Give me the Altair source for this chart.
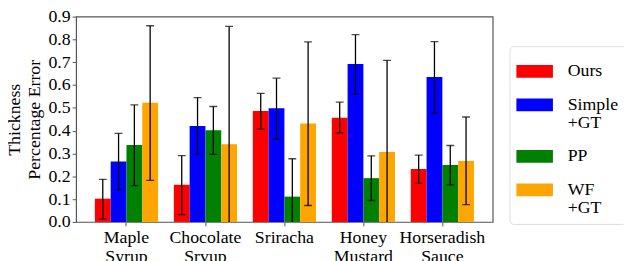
import altair as alt
import pandas as pd

categories = ["Maple Syrup", "Chocolate Srvup", "Sriracha", "Honey Mustard", "Horseradish Sauce"]
methods = ["Ours", "Simple\n+GT", "PP", "WF\n+GT"]
colors = ["#ff0000", "#0000ff", "#008000", "#ffa500"]

means = {
    "Ours":        [0.102, 0.163, 0.486, 0.457, 0.232],
    "Simple\n+GT": [0.265, 0.421, 0.498, 0.692, 0.635],
    "PP":          [0.337, 0.402, 0.111, 0.192, 0.250],
    "WF\n+GT":     [0.522, 0.340, 0.431, 0.307, 0.267],
}
err_lo = {
    "Ours":        [0.013, 0.032, 0.407, 0.391, 0.169],
    "Simple\n+GT": [0.141, 0.296, 0.362, 0.560, 0.477],
    "PP":          [0.159, 0.296, -0.055, 0.094, 0.163],
    "WF\n+GT":     [0.182, -0.177, 0.072, -0.094, 0.076],
}
err_hi = {
    "Ours":        [0.187, 0.291, 0.564, 0.525, 0.293],
    "Simple\n+GT": [0.388, 0.545, 0.630, 0.821, 0.790],
    "PP":          [0.513, 0.506, 0.277, 0.290, 0.335],
    "WF\n+GT":     [0.860, 0.857, 0.789, 0.708, 0.460],
}
y_ticks = [0.0, 0.1, 0.2, 0.3, 0.4, 0.5, 0.6, 0.7, 0.8, 0.9]

rows = []
for m in methods:
    for i, c in enumerate(categories):
        rows.append({"cat": c, "method": m, "mean": means[m][i],
                     "lo": err_lo[m][i], "hi": err_hi[m][i]})
df = pd.DataFrame(rows)

FONT = "Liberation Serif"
FS = 18
YTITLE = ["Thickness", "Percentage Error"]

x = alt.X("cat:N", sort=categories, title=None,
          scale=alt.Scale(paddingInner=0.2, paddingOuter=0.2375),
          axis=alt.Axis(labelExpr="split(datum.label, ' ')", labelAngle=0,
                        labelLineHeight=19, labelPadding=3))
xoff = alt.XOffset("method:N", sort=methods, scale=alt.Scale(paddingInner=0, paddingOuter=0))
yscale = alt.Scale(domain=[0, 0.9], nice=False)
yaxis = alt.Axis(values=y_ticks, format=".1f", grid=False, titlePadding=5, labelPadding=2)

bars = alt.Chart(df).mark_bar().encode(
    x=x, xOffset=xoff,
    y=alt.Y("mean:Q", scale=yscale, title=YTITLE, axis=yaxis),
    color=alt.Color("method:N", sort=methods,
                    scale=alt.Scale(domain=methods, range=colors),
                    legend=alt.Legend(title=None, orient="none", legendX=439, legendY=30,
                                      labelExpr="split(datum.label, '\\n')",
                                      symbolType="M-1,-0.35H1V0.35H-1Z",
                                      symbolSize=1369, symbolStrokeWidth=0,
                                      labelFont=FONT, labelFontSize=FS,
                                      labelColor="black", labelOffset=15,
                                      padding=7, rowPadding=6,
                                      strokeColor="#dddddd", cornerRadius=4,
                                      fillColor="white")),
)

rules = alt.Chart(df).mark_rule(color="black", strokeWidth=1.3, clip=True).encode(
    x=x, xOffset=xoff,
    y=alt.Y("lo:Q", scale=yscale, title=YTITLE, axis=yaxis), y2="hi:Q",
)
caps_hi = alt.Chart(df).mark_tick(color="black", size=8, thickness=1.3, clip=True).encode(
    x=x, xOffset=xoff, y=alt.Y("hi:Q", scale=yscale, title=YTITLE, axis=yaxis),
)
caps_lo = alt.Chart(df).mark_tick(color="black", size=8, thickness=1.3, clip=True).encode(
    x=x, xOffset=xoff, y=alt.Y("lo:Q", scale=yscale, title=YTITLE, axis=yaxis),
)

chart = alt.layer(bars, rules, caps_hi, caps_lo).properties(
    width=422, height=208,
    background="white",
    autosize=alt.AutoSizeParams(type="none"),
    padding={"left": 69, "top": 7, "right": 133, "bottom": 50},
).configure(
    style={"guide-label": {"font": FONT, "fontSize": FS, "lineHeight": 18}}
).configure_view(
    stroke="#555", strokeWidth=1.2
).configure_axis(
    labelFont=FONT, labelFontSize=FS, labelColor="black",
    titleFont=FONT, titleFontSize=FS, titleFontWeight="normal", titleColor="black",
    domain=False, tickColor="#555", tickSize=4
).configure_legend(
    labelFont=FONT, labelFontSize=FS, labelColor="black"
)

chart.save("out.html", embed_options={"renderer": "svg", "actions": False})
